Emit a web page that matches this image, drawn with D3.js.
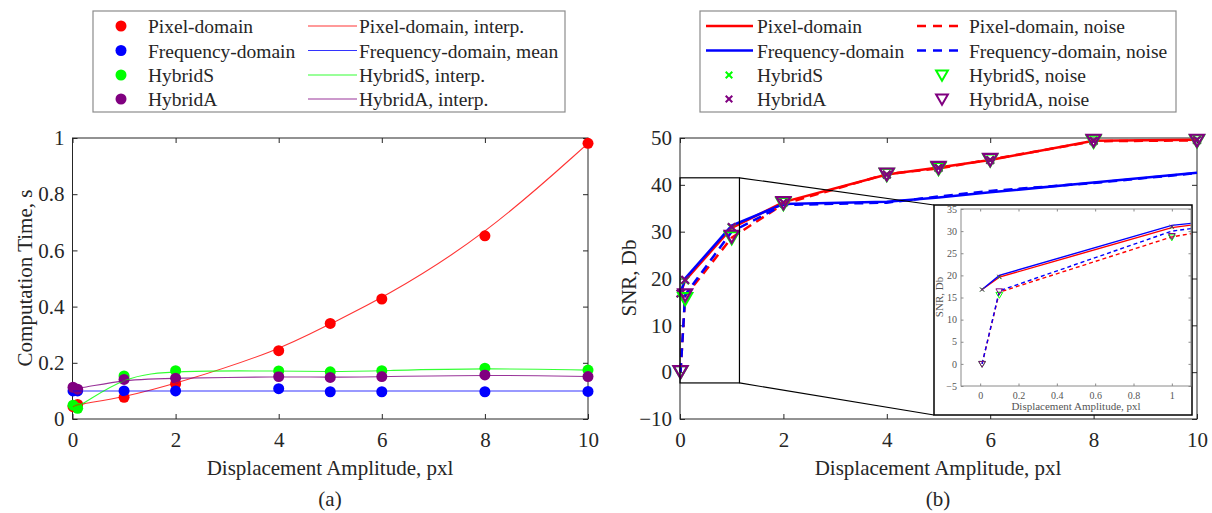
<!DOCTYPE html>
<html lang="en">
<head>
    <meta charset="UTF-8">
    <title>Computation time and SNR vs displacement amplitude</title>
    <style>
        body { margin: 0; background: #fff; }
        svg text { font-family: "Liberation Serif", "Times New Roman", serif; fill: #262626; }
        .axis path { display: none; }
        .axis line { stroke: #262626; }
        .inset .axis line { stroke: #8a8a8a; }
        .inset text { fill: #555; }
    </style>
</head>
<body>
    <svg id="chart" width="1212" height="513"></svg>
    <script src="https://d3js.org/d3.v7.min.js"></script>
    <script>
        // displacement amplitudes, pxl
        const amplitudes = [0.01, 0.1, 1, 2, 4, 5, 6, 8, 10];

        // (a) computation time, s
        const timePixel = [0.044, 0.052, 0.077, 0.125, 0.243, 0.34, 0.427, 0.652, 0.981];
        const timeFreq = [0.1, 0.1, 0.1, 0.1, 0.108, 0.097, 0.097, 0.097, 0.098];
        const timeHybridS = [0.049, 0.038, 0.153, 0.172, 0.171, 0.168, 0.172, 0.181, 0.174];
        const timeHybridA = [0.113, 0.106, 0.141, 0.145, 0.151, 0.148, 0.151, 0.157, 0.151];

        // (b) SNR, Db
        const snrPixel = [16.8, 19.6, 30.8, 36.3, 42.2, 43.7, 45.3, 49.4, 49.6];
        const snrFreq = [16.8, 20.0, 31.3, 35.9, 36.4, 37.3, 38.4, 40.5, 42.6];
        const snrPixelNoise = [0, 16.2, 28.7, 35.9, 42.3, 43.5, 45.4, 49.3, 49.5];
        const snrFreqNoise = [0, 16.5, 30.0, 35.7, 36.2, 37.5, 38.7, 40.4, 42.5];
        const snrHybridS = [16.8, 19.6, 30.9, 36.2, 42.2, 43.7, 45.3, 49.4, 49.6];
        const snrHybridA = [16.8, 19.7, 31.0, 36.2, 42.2, 43.6, 45.3, 49.4, 49.6];
        const snrHybridSNoise = [0, 15.6, 28.6, 35.9, 42.1, 43.4, 45.2, 49.2, 49.3];
        const snrHybridANoise = [0, 16.4, 28.9, 36.1, 42.2, 43.6, 45.3, 49.4, 49.4];

        const xTicks = [0, 2, 4, 6, 8, 10];
        const timeTicks = [0, 0.2, 0.4, 0.6, 0.8, 1];
        const snrTicks = [-10, 0, 10, 20, 30, 40, 50];
        const insetXTicks = [0, 0.2, 0.4, 0.6, 0.8, 1];
        const insetYTicks = [-5, 0, 5, 10, 15, 20, 25, 30, 35];

        const legendA = [
            ['Pixel-domain', 'Frequency-domain', 'HybridS', 'HybridA'],
            ['Pixel-domain, interp.', 'Frequency-domain, mean', 'HybridS, interp.', 'HybridA, interp.']
        ];
        const legendB = [
            ['Pixel-domain', 'Frequency-domain', 'HybridS', 'HybridA'],
            ['Pixel-domain, noise', 'Frequency-domain, noise', 'HybridS, noise', 'HybridA, noise']
        ];

        const RED = '#ff0000', BLUE = '#0000ff', GREEN = '#00ff00', PURPLE = '#800080';
        const colors = [RED, BLUE, GREEN, PURPLE];

        const svg = d3.select('#chart');
        const zip = (xs, ys) => xs.map((x, i) => [x, ys[i]]);

        // MATLAB-like box with inward ticks on all four sides
        function drawBox(g, x, y, xt, yt, o) {
            const [x0, x1] = x.range(), [y0, y1] = y.range();
            g.append('g').attr('class', 'axis').attr('transform', `translate(0,${y0})`)
                .call(d3.axisBottom(x).tickValues(xt).tickSizeInner(-o.tick).tickSizeOuter(0)
                    .tickPadding(o.padX).tickFormat(o.fmtX))
                .call(a => a.selectAll('text').attr('font-size', o.font));
            g.append('g').attr('class', 'axis').attr('transform', `translate(0,${y1})`)
                .call(d3.axisTop(x).tickValues(xt).tickSizeInner(-o.tick).tickSizeOuter(0).tickFormat(''));
            g.append('g').attr('class', 'axis').attr('transform', `translate(${x0},0)`)
                .call(d3.axisLeft(y).tickValues(yt).tickSizeInner(-o.tick).tickSizeOuter(0)
                    .tickPadding(o.padY).tickFormat(o.fmtY))
                .call(a => a.selectAll('text').attr('font-size', o.font));
            g.append('g').attr('class', 'axis').attr('transform', `translate(${x1},0)`)
                .call(d3.axisRight(y).tickValues(yt).tickSizeInner(-o.tick).tickSizeOuter(0).tickFormat(''));
            g.append('rect')
                .attr('x', x0).attr('y', y1).attr('width', x1 - x0).attr('height', y0 - y1)
                .attr('fill', 'none').attr('stroke', o.boxColor).attr('stroke-width', 1);
        }

        // ---------- (a) computation time ----------
        const xa = d3.scaleLinear().domain([0, 10]).range([72.5, 588]);
        const ya = d3.scaleLinear().domain([0, 1]).range([419, 138]);
        const ga = svg.append('g');

        drawBox(ga, xa, ya, xTicks, timeTicks, {
            tick: 5, padX: 13, padY: 8, font: 21, boxColor: '#262626',
            fmtX: d3.format('d'), fmtY: d => d === 0 || d === 1 ? d : d3.format('.1f')(d)
        });

        const timeSeries = [timePixel, timeFreq, timeHybridS, timeHybridA];
        timeSeries.forEach((vals, i) => {
            ga.append('g').selectAll('circle')
                .data(zip(amplitudes, vals))
                .join('circle')
                .attr('cx', d => xa(d[0]))
                .attr('cy', d => ya(d[1]))
                .attr('r', 5.5)
                .attr('fill', colors[i]);
        });

        const interp = d3.line().x(d => xa(d[0])).y(d => ya(d[1])).curve(d3.curveBasis);
        const freqMean = d3.mean(timeFreq);
        [
            zip(amplitudes, timePixel),
            d3.extent(amplitudes).map(x => [x, freqMean]),
            zip(amplitudes, timeHybridS),
            zip(amplitudes, timeHybridA)
        ].forEach((pts, i) => {
            ga.append('path')
                .attr('d', interp(pts))
                .attr('fill', 'none')
                .attr('stroke', colors[i])
                .attr('stroke-opacity', 0.8)
                .attr('stroke-width', 1.1);
        });

        ga.append('text')
            .attr('transform', 'translate(32,278) rotate(-90)')
            .attr('text-anchor', 'middle').attr('font-size', 21)
            .text('Computation Time, s');
        ga.append('text')
            .attr('x', 330).attr('y', 475)
            .attr('text-anchor', 'middle').attr('font-size', 21)
            .text('Displacement Amplitude, pxl');
        ga.append('text')
            .attr('x', 330).attr('y', 506)
            .attr('text-anchor', 'middle').attr('font-size', 21)
            .text('(a)');

        // legend (a)
        const legA = svg.append('g');
        legA.append('rect')
            .attr('x', 93).attr('y', 11).attr('width', 472).attr('height', 101)
            .attr('fill', '#fff').attr('stroke', '#8c8c8c').attr('stroke-width', 1.2);
        const rowY = [26, 50.5, 75, 99];
        legendA[0].forEach((label, i) => {
            legA.append('circle').attr('cx', 121).attr('cy', rowY[i]).attr('r', 5.5).attr('fill', colors[i]);
            legA.append('text').attr('x', 148).attr('y', rowY[i] + 7).attr('font-size', 19.5).text(label);
        });
        legendA[1].forEach((label, i) => {
            legA.append('line')
                .attr('x1', 308).attr('x2', 357).attr('y1', rowY[i]).attr('y2', rowY[i])
                .attr('stroke', colors[i]).attr('stroke-opacity', 0.8).attr('stroke-width', 1.1);
            legA.append('text').attr('x', 359).attr('y', rowY[i] + 7).attr('font-size', 19.5).text(label);
        });

        // ---------- (b) SNR ----------
        const xb = d3.scaleLinear().domain([0, 10]).range([680, 1197]);
        const yb = d3.scaleLinear().domain([-10, 50]).range([419, 138]);
        const gb = svg.append('g');

        drawBox(gb, xb, yb, xTicks, snrTicks, {
            tick: 5, padX: 13, padY: 8, font: 21, boxColor: '#262626',
            fmtX: d3.format('d'), fmtY: d3.format('d')
        });

        const triangle = d3.symbol(d3.symbolTriangle);
        const cross = d3.symbol(d3.symbolTimes);

        function drawSnr(g, x, y, s) {
            const line = d3.line().x(d => x(d[0])).y(d => y(d[1]));
            const lines = [
                [snrPixel, RED, null], [snrFreq, BLUE, null],
                [snrPixelNoise, RED, s.dash], [snrFreqNoise, BLUE, s.dash]
            ];
            lines.forEach(([vals, c, dash]) => {
                g.append('path')
                    .attr('d', line(zip(amplitudes, vals)))
                    .attr('fill', 'none')
                    .attr('stroke', c)
                    .attr('stroke-width', s.lw)
                    .attr('stroke-dasharray', dash);
            });
            [[snrHybridS, GREEN], [snrHybridA, PURPLE]].forEach(([vals, c]) => {
                g.append('g').selectAll('path')
                    .data(zip(amplitudes, vals))
                    .join('path')
                    .attr('d', cross.size(s.cross))
                    .attr('transform', d => `translate(${x(d[0])},${y(d[1])})`)
                    .attr('fill', 'none').attr('stroke', c).attr('stroke-width', s.mw);
            });
            [[snrHybridSNoise, GREEN], [snrHybridANoise, PURPLE]].forEach(([vals, c]) => {
                g.append('g').selectAll('path')
                    .data(zip(amplitudes, vals))
                    .join('path')
                    .attr('d', triangle.size(s.tri))
                    .attr('transform', d => `translate(${x(d[0])},${y(d[1]) - s.triShift}) rotate(180)`)
                    .attr('fill', 'none').attr('stroke', c).attr('stroke-width', s.mw);
            });
        }

        svg.append('clipPath').attr('id', 'clipB').append('rect')
            .attr('x', 670).attr('y', 130).attr('width', 540).attr('height', 300);
        drawSnr(gb.append('g').attr('clip-path', 'url(#clipB)'), xb, yb,
            { lw: 2.5, dash: '9,6', cross: 40, tri: 85, triShift: 2, mw: 2.2 });

        // zoom region and connectors
        const zoomX = [0, 1.15], zoomY = [-2.3, 41.5];
        const inset = { left: 934, top: 205, right: 1192, bottom: 415 };
        gb.append('rect')
            .attr('x', xb(zoomX[0])).attr('y', yb(zoomY[1]))
            .attr('width', xb(zoomX[1]) - xb(zoomX[0])).attr('height', yb(zoomY[0]) - yb(zoomY[1]))
            .attr('fill', 'none').attr('stroke', '#000').attr('stroke-width', 1.2);
        gb.append('line')
            .attr('x1', xb(zoomX[1])).attr('y1', yb(zoomY[1])).attr('x2', inset.left).attr('y2', inset.top)
            .attr('stroke', '#000').attr('stroke-width', 1.2);
        gb.append('line')
            .attr('x1', xb(zoomX[1])).attr('y1', yb(zoomY[0])).attr('x2', inset.left).attr('y2', inset.bottom)
            .attr('stroke', '#000').attr('stroke-width', 1.2);

        // inset
        const gi = svg.append('g').attr('class', 'inset');
        gi.append('rect')
            .attr('x', inset.left).attr('y', inset.top)
            .attr('width', inset.right - inset.left).attr('height', inset.bottom - inset.top)
            .attr('fill', '#fff').attr('stroke', '#000').attr('stroke-width', 1.5);
        const xi = d3.scaleLinear().domain([-0.1, 1.1]).range([961, 1191]);
        const yi = d3.scaleLinear().domain([-5, 35]).range([386, 209]);
        svg.append('clipPath').attr('id', 'clipI').append('rect')
            .attr('x', 961).attr('y', 209).attr('width', 230).attr('height', 177);
        drawSnr(gi.append('g').attr('clip-path', 'url(#clipI)'), xi, yi,
            { lw: 1.4, dash: '4,3', cross: 12, tri: 20, triShift: 0.5, mw: 1 });
        drawBox(gi, xi, yi, insetXTicks, insetYTicks, {
            tick: 2.5, padX: 6, padY: 4, font: 10, boxColor: '#8a8a8a',
            fmtX: d => d === 0 || d === 1 ? d : d3.format('.1f')(d), fmtY: d3.format('d')
        });
        gi.append('text')
            .attr('transform', 'translate(943,297) rotate(-90)')
            .attr('text-anchor', 'middle').attr('font-size', 11)
            .text('SNR, Db');
        gi.append('text')
            .attr('x', 1076).attr('y', 410)
            .attr('text-anchor', 'middle').attr('font-size', 11)
            .text('Displacement Amplitude, pxl');

        gb.append('text')
            .attr('transform', 'translate(636,278) rotate(-90)')
            .attr('text-anchor', 'middle').attr('font-size', 21)
            .text('SNR, Db');
        gb.append('text')
            .attr('x', 938).attr('y', 475)
            .attr('text-anchor', 'middle').attr('font-size', 21)
            .text('Displacement Amplitude, pxl');
        gb.append('text')
            .attr('x', 938).attr('y', 506)
            .attr('text-anchor', 'middle').attr('font-size', 21)
            .text('(b)');

        // legend (b)
        const legB = svg.append('g');
        legB.append('rect')
            .attr('x', 700).attr('y', 11).attr('width', 476).attr('height', 101)
            .attr('fill', '#fff').attr('stroke', '#8c8c8c').attr('stroke-width', 1.2);
        legendB[0].forEach((label, i) => {
            if (i < 2) {
                legB.append('line')
                    .attr('x1', 706).attr('x2', 753).attr('y1', rowY[i]).attr('y2', rowY[i])
                    .attr('stroke', colors[i]).attr('stroke-width', 2.5);
            } else {
                legB.append('path').attr('d', cross.size(30))
                    .attr('transform', `translate(729,${rowY[i]})`)
                    .attr('fill', 'none').attr('stroke', colors[i]).attr('stroke-width', 2);
            }
            legB.append('text').attr('x', 757).attr('y', rowY[i] + 7).attr('font-size', 19.5).text(label);
        });
        legendB[1].forEach((label, i) => {
            if (i < 2) {
                legB.append('line')
                    .attr('x1', 917).attr('x2', 963).attr('y1', rowY[i]).attr('y2', rowY[i])
                    .attr('stroke', colors[i]).attr('stroke-width', 2.5).attr('stroke-dasharray', '9,7');
            } else {
                legB.append('path').attr('d', triangle.size(60))
                    .attr('transform', `translate(942,${rowY[i] - 1}) rotate(180)`)
                    .attr('fill', 'none').attr('stroke', colors[i]).attr('stroke-width', 2);
            }
            legB.append('text').attr('x', 969).attr('y', rowY[i] + 7).attr('font-size', 19.5).text(label);
        });
    </script>
</body>
</html>
